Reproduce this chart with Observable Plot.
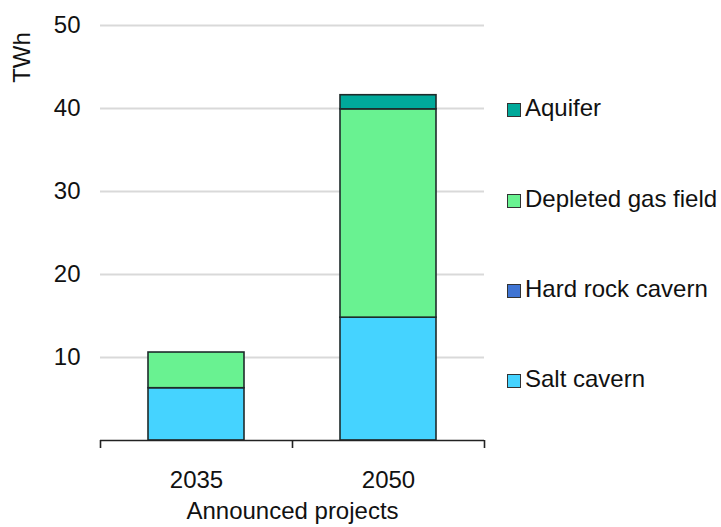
<!DOCTYPE html>
<html>
<head>
<meta charset="utf-8">
<script src="https://cdn.jsdelivr.net/npm/d3@7"></script>
<script src="https://cdn.jsdelivr.net/npm/@observablehq/plot@0.6"></script>
<style>
  body { margin: 0; background: #fff; font-family: "Liberation Sans", Arial, sans-serif; }
  #wrap { position: relative; width: 721px; height: 527px; overflow: hidden; }
  #legend { position: absolute; left: 507px; top: 0; }
  .item { position: absolute; display: flex; align-items: center; white-space: nowrap; font-size: 24px; line-height: 28px; height: 28px; color: #111; }
  .sw { width: 14px; height: 14px; border: 1.6px solid #333; margin-right: 4px; margin-top: 3px; box-sizing: border-box; }
</style>
</head>
<body>
<div id="wrap"><div id="legend"></div></div>
<script>
const categories = ["2035", "2050"];
const seriesNames = ["Salt cavern", "Hard rock cavern", "Depleted gas field", "Aquifer"];
const saltCavern = [6.3, 14.8];
const hardRockCavern = [0, 0];
const depletedGasField = [4.3, 25.1];
const aquifer = [0, 1.7];
const yTicks = [10, 20, 30, 40, 50];
const colors = ["#45d3ff", "#3f74d3", "#69f291", "#00a99a"];

const values = [saltCavern, hardRockCavern, depletedGasField, aquifer];
const rows = [];
categories.forEach((c, i) => {
  let base = 0;
  seriesNames.forEach((s, k) => {
    const v = values[k][i];
    if (v > 0) rows.push({cat: c, idx: i, series: s, y1: base, y2: base + v});
    base += v;
  });
});
const bounds = d3.range(categories.length + 1);

const plot = Plot.plot({
  width: 721,
  height: 527,
  marginLeft: 100,
  marginRight: 237,
  marginTop: 25,
  marginBottom: 87,
  style: {fontFamily: "'Liberation Sans', Arial, sans-serif", fontSize: "24px", color: "#111", background: "#fff", overflow: "visible"},
  x: {domain: [0, categories.length], axis: null},
  y: {domain: [0, 50], axis: null},
  color: {domain: seriesNames, range: colors},
  marks: [
    Plot.ruleY(yTicks, {stroke: "#d9d9d9", strokeWidth: 2}),
    Plot.text(yTicks, {x: 0, y: d => d, text: d => String(d), textAnchor: "end", dx: -20, fontSize: 24, fill: "#111"}),
    Plot.rectY(rows, {x1: d => d.idx + 0.25, x2: d => d.idx + 0.75, y1: "y1", y2: "y2", fill: "series", stroke: "#1e2b2b", strokeWidth: 1.6}),
    Plot.ruleY([0], {stroke: "#222", strokeWidth: 1.6}),
    Plot.ruleX(bounds, {y1: 0, y2: 0, stroke: "#222", strokeWidth: 1.6, insetBottom: -8}),
    Plot.text(categories, {x: (d, i) => i + 0.5, y: 0, text: d => d, dy: 40, fontSize: 24, fill: "#111"}),
    Plot.text(["Announced projects"], {x: categories.length / 2, y: 0, dy: 71, fontSize: 24, fill: "#111"}),
    Plot.text(["TWh"], {x: 0, y: 50, dx: -78, dy: 32, rotate: -90, fontSize: 24, fill: "#111"})
  ]
});
document.getElementById("wrap").prepend(plot);

// legend: reversed order (top: Aquifer)
const legend = document.getElementById("legend");
const tops = [108, 199, 289, 379];
seriesNames.slice().reverse().forEach((s, i) => {
  const it = document.createElement("div");
  it.className = "item";
  it.style.top = (tops[i] - 14) + "px";
  const sw = document.createElement("span");
  sw.className = "sw";
  sw.style.background = colors[seriesNames.indexOf(s)];
  const lb = document.createElement("span");
  lb.textContent = s;
  it.append(sw, lb);
  legend.append(it);
});
</script>
</body>
</html>
